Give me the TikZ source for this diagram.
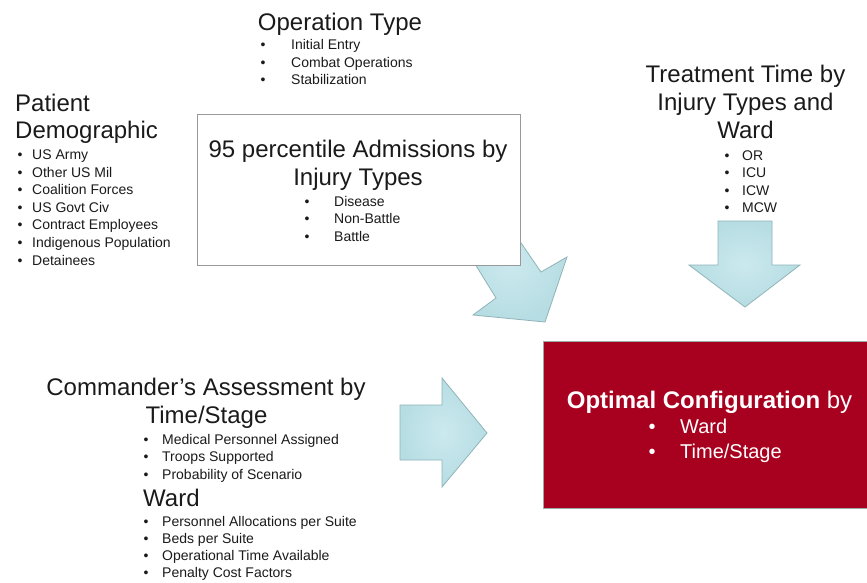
\documentclass[tikz,border=0pt]{standalone}
\usepackage{fontspec}
\setmainfont{Liberation Sans}
\definecolor{arrowfill}{HTML}{B6DDE3}
\definecolor{arrowin}{HTML}{CBE9EE}
\definecolor{arrowline}{HTML}{8FB3B8}
\definecolor{optred}{HTML}{A8001F}
\definecolor{optedge}{HTML}{9AAAA6}
\definecolor{txt}{HTML}{1A1A1A}
\begin{document}
\begin{tikzpicture}[x=1pt,y=-1pt,
  title/.style={font=\fontsize{24}{28}\selectfont, inner sep=0pt, anchor=base, text=txt},
  titlew/.style={font=\fontsize{24}{28}\selectfont, inner sep=0pt, anchor=base west, text=txt},
  item/.style={font=\fontsize{14}{17}\selectfont, inner sep=0pt, anchor=base west, text=txt},
  bul/.style={font=\fontsize{14}{17}\selectfont, inner sep=0pt, anchor=base, text=txt},
  fatarrow/.style={draw=arrowline, line width=0.8pt, inner color=arrowin, outer color=arrowfill},
  wbox/.style={draw=gray!80, line width=1.3pt, fill=white},
  rbox/.style={draw=optedge, line width=1pt, fill=optred}]
\useasboundingbox (0,0) rectangle (867,582);

% ---- Operation Type
\node[title] (optitle) at (340,30) {Operation Type};
\foreach \t [count=\i] in {Initial Entry, Combat Operations, Stabilization}{
  \node[bul] (opb\i) at (263,{49.5+(\i-1)*17.5}) {•};
  \node[item] (opt\i) at (291,{49.5+(\i-1)*17.5}) {\t};
}

% ---- Patient Demographic
\node[titlew] (pd1) at (15,111) {Patient};
\node[titlew] (pd2) at (15,138) {Demographic};
\foreach \t [count=\i] in {US Army, Other US Mil, Coalition Forces, US Govt Civ, Contract Employees, Indigenous Population, Detainees}{
  \node[bul] (pdb\i) at (20,{159.5+(\i-1)*17.6}) {•};
  \node[item] (pdt\i) at (32,{159.5+(\i-1)*17.6}) {\t};
}

% ---- diagonal arrow (behind the box)
\shade[fatarrow] (455.3,232) -- (495.1,205.2) -- (541,272) -- (567,257)
  -- (545,322) -- (473,315) -- (496,298) -- cycle;

% ---- Admissions box
\node[wbox, minimum width=323pt, minimum height=151pt, anchor=north west, inner sep=0pt] (admbox) at (197,114) {};
\node[title] (adm1) at (358,157) {95 percentile Admissions by};
\node[title] (adm2) at (358,185) {Injury Types};
\foreach \t [count=\i] in {Disease, Non-Battle, Battle}{
  \node[bul] (admb\i) at (307,{206+(\i-1)*17.5}) {•};
  \node[item] (admt\i) at (334,{206+(\i-1)*17.5}) {\t};
}

% ---- Treatment Time
\node[title] (tt1) at (745.5,82) {Treatment Time by};
\node[title] (tt2) at (745.5,110) {Injury Types and};
\node[title] (tt3) at (745.5,138) {Ward};
\foreach \t [count=\i] in {OR, ICU, ICW, MCW}{
  \node[bul] (ttb\i) at (727,{160+(\i-1)*17.6}) {•};
  \node[item] (ttt\i) at (742,{160+(\i-1)*17.6}) {\t};
}
\shade[fatarrow] (718,221) -- (772,221) -- (772,265) -- (800,265) -- (745,307)
  -- (689,265) -- (718,265) -- cycle;

% ---- Commander's Assessment
\node[title] (ca1) at (206,395) {Commander’s Assessment by};
\node[title] (ca2) at (206.5,423) {Time/Stage};
\foreach \t [count=\i] in {Medical Personnel Assigned, Troops Supported, Probability of Scenario}{
  \node[bul] (cab\i) at (146,{444+(\i-1)*17.5}) {•};
  \node[item] (cat\i) at (162,{444+(\i-1)*17.5}) {\t};
}
\node[titlew] (ward) at (143,506) {Ward};
\foreach \t [count=\i] in {Personnel Allocations per Suite, Beds per Suite, Operational Time Available, Penalty Cost Factors}{
  \node[bul] (wb\i) at (146,{526+(\i-1)*17.3}) {•};
  \node[item] (wt\i) at (162,{526+(\i-1)*17.3}) {\t};
}
\shade[fatarrow] (400,405) -- (442,405) -- (442,378) -- (487,433) -- (442,487)
  -- (442,460) -- (400,460) -- cycle;

% ---- Optimal Configuration box
\node[rbox, minimum width=330pt, minimum height=167pt, anchor=north west, inner sep=0pt] (optbox) at (543,341) {};
\node[title, text=white] (oc1) at (709.5,408) {\textbf{Optimal Configuration} by};
\foreach \t [count=\i] in {Ward, Time/Stage}{
  \node[inner sep=0pt, anchor=base, text=white, font=\fontsize{20}{24}\selectfont] (ocb\i) at (652,{433+(\i-1)*25}) {•};
  \node[inner sep=0pt, anchor=base west, text=white, font=\fontsize{20}{24}\selectfont] (oct\i) at (680,{433+(\i-1)*25}) {\t};
}
\end{tikzpicture}
\end{document}
